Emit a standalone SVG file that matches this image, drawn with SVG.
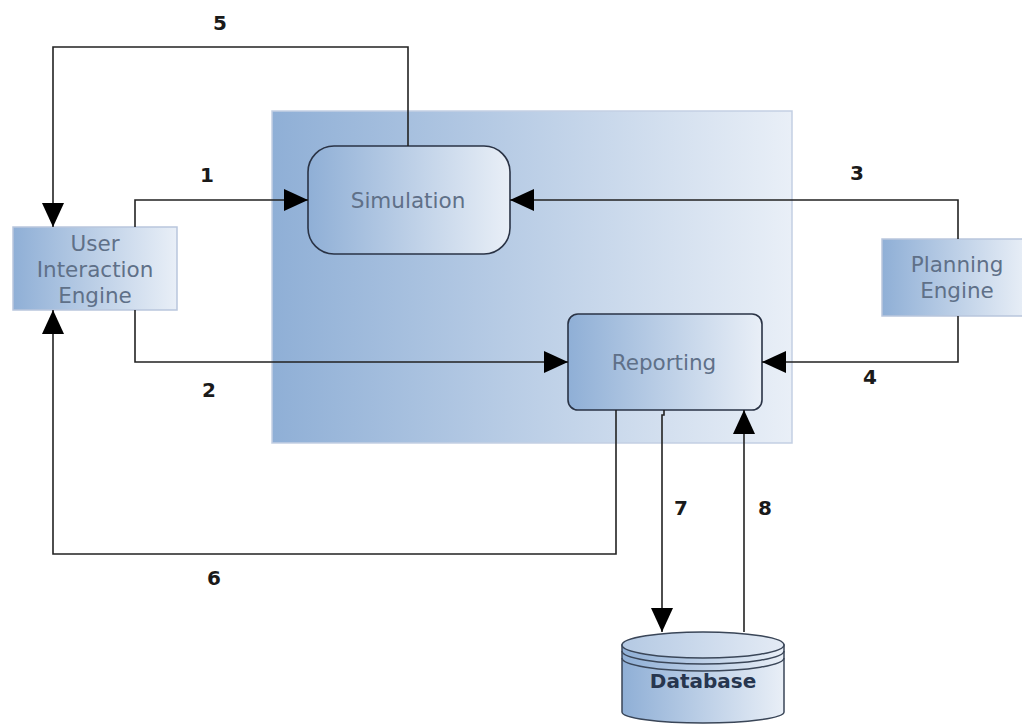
<svg xmlns="http://www.w3.org/2000/svg" width="1022" height="724" viewBox="0 0 1022 724">
<defs>
<linearGradient id="g"><stop offset="0" stop-color="#8fafd6"/><stop offset="1" stop-color="#e9eff7"/></linearGradient>
<linearGradient id="t"><stop offset="0" stop-color="#b4c9e3"/><stop offset="1" stop-color="#e4ebf5"/></linearGradient>
<marker id="a" markerUnits="userSpaceOnUse" markerWidth="24" markerHeight="22" refX="24" refY="11" orient="auto"><path d="M0 0L24 11L0 22Z" fill="#000"/></marker>
</defs>
<style>
text{font-family:"DejaVu Sans",Verdana,sans-serif;font-size:21.500px;text-anchor:middle;fill:#5f7088}
.n{font-weight:bold;fill:#1a1a1a;font-size:20px}
.c{fill:none;stroke:#222;stroke-width:1.600}
.b{fill:url(#g);stroke:#b9c6dd;stroke-width:1.500}
.r{fill:url(#g);stroke:#2a3345;stroke-width:1.600}
.d{fill:none;stroke:#3a4658;stroke-width:1.500}
</style>
<rect id="container" x="272" y="111" width="520" height="332" fill="url(#g)" stroke="#c3cfe3" stroke-width="1.500"/>
<g id="simulation"><rect class="r" x="308" y="146" width="202" height="108" rx="26"/><text x="408" y="208">Simulation</text></g>
<g id="reporting"><rect class="r" x="568" y="314" width="194" height="96" rx="10"/><text x="664" y="370">Reporting</text></g>
<g id="user-interaction-engine"><rect class="b" x="13" y="227" width="164" height="83"/><text x="95" y="251">User</text><text x="95" y="277">Interaction</text><text x="95" y="303">Engine</text></g>
<g id="planning-engine"><rect class="b" x="882" y="239" width="145" height="77"/><text x="957" y="272">Planning</text><text x="957" y="298">Engine</text></g>
<g id="database">
<path d="M622 645V712A81 11 0 0 0 784 712V645Z" fill="url(#g)" stroke="#3a4658" stroke-width="1.500"/>
<ellipse cx="703" cy="645" rx="81" ry="13" fill="url(#t)" stroke="#3a4658" stroke-width="1.500"/>
<path class="d" d="M622 651A81 13 0 0 0 784 651M622 658A81 13 0 0 0 784 658"/>
<text x="703" y="688" style="font-weight:bold;fill:#27364f;font-size:20px">Database</text>
</g>
<g id="connectors">
<path class="c" marker-end="url(#a)" d="M135 227V200H308"/>
<path class="c" marker-end="url(#a)" d="M135 310V362H568"/>
<path class="c" marker-end="url(#a)" d="M958 239V200H510"/>
<path class="c" marker-end="url(#a)" d="M958 316V362H762"/>
<path class="c" marker-end="url(#a)" d="M408 146V47H53V227"/>
<path class="c" marker-end="url(#a)" d="M616 410V554H53V310"/>
<path class="c" marker-end="url(#a)" d="M664 410V415H662V632"/>
<path class="c" marker-end="url(#a)" d="M744 632V410"/>
</g>
<g id="labels">
<text class="n" x="220" y="30">5</text><text class="n" x="207" y="182">1</text><text class="n" x="857" y="180">3</text><text class="n" x="209" y="397">2</text><text class="n" x="870" y="384">4</text><text class="n" x="681" y="515">7</text><text class="n" x="765" y="515">8</text><text class="n" x="214" y="585">6</text>
</g>
</svg>
